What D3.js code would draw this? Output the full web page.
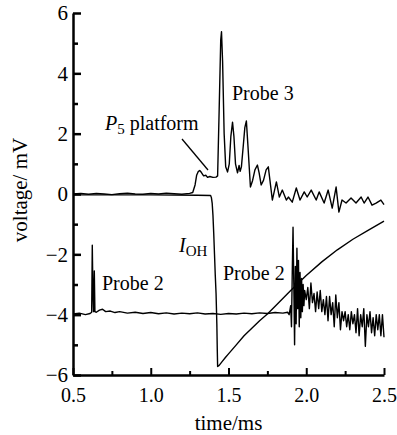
<!DOCTYPE html>
<html>
<head>
<meta charset="utf-8">
<script src="https://cdn.jsdelivr.net/npm/d3@7"></script>
</head>
<body style="margin:0">
<div id="chart"></div>
<script>
// ticks
var xTicks = [0.5, 1.0, 1.5, 2.0, 2.5]
var xMinor = [0.75, 1.25, 1.75, 2.25]
var yTicks = [-6, -4, -2, 0, 2, 4, 6]
var yMinor = [-5, -3, -1, 1, 3, 5]

// Probe 3 (top trace)
var probe3T = [0.5, 0.55, 0.6, 0.65, 0.7, 0.75, 0.8, 0.85, 0.9, 0.95, 1.0, 1.05, 1.1, 1.15, 1.2, 1.25,
  1.27, 1.285, 1.295, 1.305, 1.315, 1.325, 1.34, 1.355, 1.365, 1.38, 1.4, 1.42, 1.43,
  1.44, 1.45, 1.455, 1.462, 1.472, 1.482, 1.494, 1.505, 1.515, 1.526, 1.535, 1.545, 1.558,
  1.568, 1.575, 1.583, 1.595, 1.605, 1.615, 1.625, 1.641, 1.655, 1.67, 1.686, 1.697, 1.71,
  1.725, 1.742, 1.756, 1.782, 1.808, 1.827, 1.846, 1.872, 1.885, 1.91, 1.936, 1.96, 1.987,
  2.006, 2.032, 2.064, 2.083, 2.115, 2.141, 2.167, 2.192, 2.21, 2.23, 2.256, 2.288, 2.32,
  2.353, 2.372, 2.397, 2.423, 2.449, 2.48, 2.5]
var probe3V = [0, 0.02, -0.01, 0.02, 0, -0.02, 0.01, 0.03, 0, -0.01, 0.02, 0, 0.03, 0.01, -0.01, 0.02,
  0.05, 0.3, 0.62, 0.74, 0.78, 0.72, 0.6, 0.62, 0.55, 0.58, 0.55, 0.56, 0.6,
  2.8, 5.1, 5.38, 4.4, 2.0, 0.9, 0.73, 1.0, 1.9, 2.38, 1.9, 1.0, 0.7,
  0.95, 0.75, 0.9, 1.6, 2.2, 2.42, 1.6, 0.23, 0.45, 0.8, 0.96, 0.7, 0.3,
  0.45, 0.8, 0.9, -0.2, 0.4, -0.1, 0.13, -0.2, -0.1, -0.27, 0.2, -0.2, 0.07,
  -0.1, 0.13, -0.2, 0.07, -0.3, 0.13, -0.47, 0.23, -0.6, -0.2, -0.3, -0.13, -0.3,
  -0.1, -0.3, -0.1, -0.37, -0.3, -0.2, -0.35]

// Probe 2 (bottom trace)
var probe2T = [0.5, 0.54, 0.58, 0.61, 0.62, 0.624, 0.628, 0.632, 0.637, 0.641, 0.65, 0.67, 0.69,
  0.71, 0.74, 0.77, 0.8, 0.85, 0.9, 0.95, 1.0, 1.05, 1.1, 1.15, 1.2, 1.25, 1.3, 1.35, 1.4, 1.45,
  1.5, 1.55, 1.6, 1.65, 1.7, 1.75, 1.8, 1.85, 1.88, 1.89, 1.9, 1.905, 1.91, 1.915, 1.92, 1.925,
  1.93, 1.935, 1.94, 1.945, 1.95, 1.955, 1.96, 1.965, 1.97, 1.975, 1.98, 1.985, 1.99, 2.0, 2.01,
  2.02, 2.03, 2.04, 2.05, 2.06, 2.07, 2.08, 2.09, 2.1, 2.11, 2.12, 2.13, 2.14, 2.15, 2.16, 2.17,
  2.18, 2.19, 2.2, 2.21, 2.22, 2.23, 2.24, 2.25, 2.26, 2.27, 2.28, 2.29, 2.3, 2.31, 2.32, 2.33,
  2.34, 2.35, 2.36, 2.37, 2.38, 2.39, 2.4, 2.41, 2.42, 2.43, 2.44, 2.45, 2.46, 2.47, 2.48, 2.49, 2.5]
var probe2V = [-3.98, -3.95, -4.0, -3.96, -3.92, -1.7, -3.2, -3.9, -2.55, -3.9, -3.92, -3.85, -3.82,
  -3.9, -3.88, -3.93, -3.9, -3.95, -3.92, -3.96, -3.93, -3.97, -3.94, -3.98, -3.95, -3.97, -3.94, -3.98, -3.96, -3.99,
  -3.96, -3.98, -3.95, -3.97, -3.94, -3.96, -3.93, -3.95, -3.92, -4.0, -3.7, -4.4, -2.6, -1.1, -3.0, -5.0,
  -2.4, -4.3, -1.8, -3.8, -2.2, -4.4, -2.6, -4.1, -2.8, -3.9, -3.0, -3.7, -3.2, -3.5, -3.1,
  -3.8, -2.95, -3.6, -3.3, -3.9, -3.25, -3.8, -3.2, -3.9, -3.5, -4.0, -3.4, -4.2, -3.4, -4.0, -3.6,
  -4.4, -3.35, -4.1, -3.6, -4.5, -3.9, -4.2, -3.9, -4.4, -4.0, -4.5, -3.9, -4.3, -4.0, -4.6, -3.8,
  -4.7, -4.0, -4.4, -3.8, -5.05, -4.0, -4.4, -3.9, -4.6, -4.1, -4.7, -4.0, -4.5, -4.0, -4.7, -4.0, -4.75]

// I_OH trace
var iohT = [0.5, 1.0, 1.3, 1.385, 1.39, 1.395, 1.4, 1.405, 1.41, 1.415, 1.42, 1.425, 1.428, 1.43,
  1.44, 1.46, 1.48, 1.5, 1.55, 1.6, 1.65, 1.7, 1.75, 1.8, 1.9, 2.0, 2.1, 2.2, 2.3, 2.4, 2.5]
var iohV = [-0.03, -0.03, -0.04, -0.05, -0.12, -0.3, -0.7, -1.3, -2.0, -2.7, -3.3, -4.3, -5.2, -5.72,
  -5.68, -5.55, -5.42, -5.3, -5.0, -4.7, -4.45, -4.2, -3.98, -3.72, -3.2, -2.7, -2.25, -1.85, -1.5, -1.2, -0.9]

var FONT = "'Liberation Serif'"
var W = 397, H = 435
var margin = { top: 13, right: 13, bottom: 60, left: 73 }

var svg = d3.select("#chart").append("svg")
  .attr("width", W)
  .attr("height", H)

var x = d3.scaleLinear().domain([0.5, 2.5]).range([margin.left, W - margin.right])
var y = d3.scaleLinear().domain([-6, 6]).range([H - margin.bottom, margin.top])

function zipData(ts, vs) {
  return ts.map(function (t, i) { return { t: t, v: vs[i] } })
}

var line = d3.line()
  .x(function (d) { return x(d.t) })
  .y(function (d) { return y(d.v) })

var series = [zipData(probe3T, probe3V), zipData(iohT, iohV), zipData(probe2T, probe2V)]

svg.selectAll("path.trace")
  .data(series)
  .enter()
  .append("path")
  .attr("class", "trace")
  .attr("d", function (d) { return line(d) })
  .attr("fill", "none")
  .attr("stroke", "#000")
  .attr("stroke-width", 1.4)
  .attr("stroke-linejoin", "round")

// minor ticks
svg.append("g")
  .attr("transform", "translate(0," + y(-6) + ")")
  .call(d3.axisBottom(x).tickValues(xMinor).tickSize(-4).tickFormat(""))
  .call(function (g) { g.select(".domain").remove() })
  .selectAll("line").attr("stroke-width", 2)
svg.append("g")
  .attr("transform", "translate(" + x(0.5) + ",0)")
  .call(d3.axisLeft(y).tickValues(yMinor).tickSize(-5).tickFormat(""))
  .call(function (g) { g.select(".domain").remove() })
  .selectAll("line").attr("stroke-width", 2.5)

// x axis
var xAxis = svg.append("g")
  .attr("transform", "translate(0," + y(-6) + ")")
  .call(d3.axisBottom(x).tickValues(xTicks).tickSizeInner(-7).tickSizeOuter(0).tickPadding(13)
    .tickFormat(d3.format(".1f")))
xAxis.select(".domain").attr("stroke-width", 2.5)
xAxis.selectAll("line").attr("stroke-width", 2)
xAxis.selectAll("text").style("font-family", FONT).style("font-size", "20px")

// y axis
var yAxis = svg.append("g")
  .attr("transform", "translate(" + x(0.5) + ",0)")
  .call(d3.axisLeft(y).tickValues(yTicks).tickSizeInner(-8).tickSizeOuter(0).tickPadding(5)
    .tickFormat(function (d) { return d < 0 ? "\u2212" + Math.abs(d) : d }))
yAxis.select(".domain").attr("stroke-width", 2.5)
yAxis.selectAll("line").attr("stroke-width", 2.5)
yAxis.selectAll("text").style("font-family", FONT).style("font-size", "21px")

// axis titles
svg.append("text")
  .attr("x", (x(0.5) + x(2.5)) / 2)
  .attr("y", 430)
  .attr("text-anchor", "middle")
  .style("font-family", FONT)
  .style("font-size", "21px")
  .text("time/ms")

svg.append("text")
  .attr("transform", "translate(27," + 190 + ") rotate(-90)")
  .attr("text-anchor", "middle")
  .style("font-family", FONT)
  .style("font-size", "21px")
  .text("voltage/ mV")

// annotations
var p5 = svg.append("text").attr("x", 105).attr("y", 130)
  .style("font-family", FONT).style("font-size", "20px")
p5.append("tspan").style("font-style", "italic").text("P")
p5.append("tspan").attr("dy", 4).style("font-size", "15px").text("5")
p5.append("tspan").attr("dy", -4).text(" platform")

svg.append("line")
  .attr("x1", 182).attr("y1", 139)
  .attr("x2", 208).attr("y2", 170)
  .attr("stroke", "#000")
  .attr("stroke-width", 1.3)

var labels = [
  { x: 232, y: 100, t: "Probe 3" },
  { x: 102, y: 290, t: "Probe 2" },
  { x: 223, y: 280, t: "Probe 2" }
]
svg.selectAll("text.lbl")
  .data(labels)
  .enter()
  .append("text")
  .attr("class", "lbl")
  .attr("x", function (d) { return d.x })
  .attr("y", function (d) { return d.y })
  .style("font-family", FONT)
  .style("font-size", "20px")
  .text(function (d) { return d.t })

var ioh = svg.append("text").attr("x", 179).attr("y", 252)
  .style("font-family", FONT).style("font-size", "20px")
ioh.append("tspan").style("font-style", "italic").text("I")
ioh.append("tspan").attr("dy", 4).style("font-size", "15px").text("OH")
</script>
</body>
</html>
